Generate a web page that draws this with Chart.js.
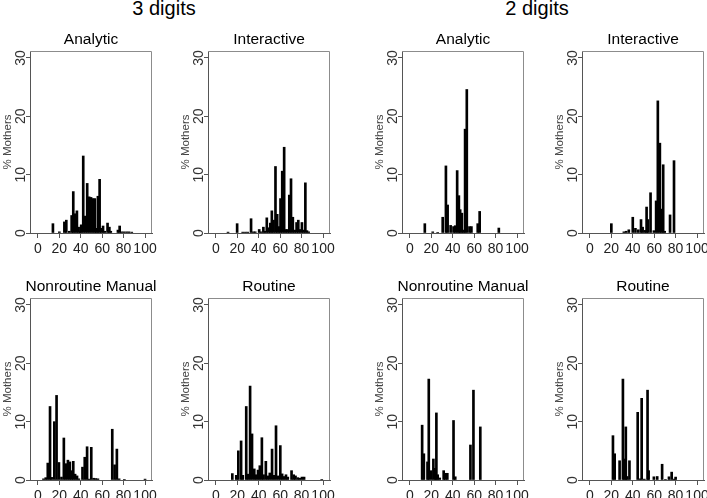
<!DOCTYPE html>
<html>
<head>
<meta charset="utf-8">
<script src="https://cdn.jsdelivr.net/npm/chart.js@4.4.1/dist/chart.umd.min.js"></script>
<style>
  html, body { margin: 0; padding: 0; background: #fff; overflow: hidden; }
  body { width: 707px; height: 498px; position: relative; font-family: "Liberation Sans", Arial, sans-serif; }
  .head { position: absolute; top: -3px; width: 200px; text-align: center; font-size: 20px; line-height: 22px; color: #000; }
  .panel { position: absolute; width: 182px; height: 230px; }
</style>
</head>
<body>
<div class="head" style="left:64px">3 digits</div>
<div class="head" style="left:437px">2 digits</div>
<script>
const FONT = "Liberation Sans";
const ticksX = [0, 20, 40, 60, 80, 100];
const ticksY = [0, 10, 20, 30];

// 3 digits
const analytic3X = [14, 20, 24.7, 26.5, 29.3, 31.5, 33, 34.6, 36.4, 38, 39.5, 40.4, 42.3, 44.2, 46, 47.8, 49.6, 51.4, 53.1, 54.6, 56, 57.6, 59.2, 60.8, 62.4, 65, 66.7, 68, 74.7, 76.3, 78, 80.2, 82.7, 85, 87.6];
const analytic3Y = [1.6, 0.2, 1.9, 2.2, 0.3, 3.0, 7.1, 3.3, 3.8, 1.0, 0.3, 1.4, 13.2, 2.9, 8.5, 6.2, 6.1, 5.9, 5.9, 0.8, 6.3, 9.2, 0.8, 1.2, 0.3, 1.7, 1.0, 0.3, 0.5, 1.2, 0.2, 0.2, 0.2, 0.2, 0.15];

const interactive3X = [11.3, 19.8, 25, 27.5, 29.7, 32.8, 35, 36.7, 40.4, 42.2, 44.3, 45.8, 47.5, 49.2, 50.8, 52.2, 53.8, 55.6, 57.2, 58.8, 60.3, 61.9, 63.7, 65.3, 66.9, 68.5, 70.1, 71.8, 73.5, 75.3, 76.9, 78.6, 80.3, 81.8, 83.5, 85, 86.6];
const interactive3Y = [0.15, 1.6, 0.15, 0.15, 0.15, 2.45, 0.2, 0.2, 0.6, 0.2, 1.0, 0.3, 2.6, 0.9, 1.7, 3.8, 2.2, 11.4, 3.2, 1.1, 5.9, 10.6, 14.7, 0.6, 0.6, 6.5, 9.3, 2.7, 0.5, 1.8, 2.2, 0.6, 1.8, 0.5, 8.6, 0.4, 0.2];

const manual3X = [5.2, 7.3, 9.2, 11.3, 12.8, 15.3, 17.4, 19.6, 22, 24.2, 26, 28, 29.8, 31.4, 33, 34.7, 36.5, 38.2, 41.6, 43.7, 45.9, 47.7, 49.8, 52, 54, 56, 69.4, 71.6, 73.7, 75.8, 80.7, 100];
const manual3Y = [0.2, 0.4, 2.9, 12.6, 0.45, 10.0, 14.5, 3.0, 0.5, 7.2, 2.8, 3.4, 3.1, 1.6, 3.2, 1.0, 0.7, 0.2, 2.2, 3.9, 5.7, 0.15, 5.6, 0.3, 0.25, 0.2, 8.7, 2.6, 5.3, 0.2, 0.1, 0.15];

const routine3X = [15.3, 19, 20.9, 23.5, 25.1, 28.3, 30, 31.9, 33.7, 35.8, 37.4, 39.3, 41, 42.9, 44.5, 46.6, 48.4, 50.3, 52.4, 54.2, 56.1, 58.1, 60.1, 61.8, 63.5, 65.4, 67.1, 70.6, 72.6, 74.3, 76.5, 78.3, 80.3, 82.3, 98.8];
const routine3Y = [1.1, 0.8, 5.0, 6.7, 0.8, 12.6, 1.0, 16.1, 7.9, 1.9, 0.9, 1.7, 2.45, 7.25, 0.9, 3.2, 0.7, 1.2, 5.3, 0.8, 9.3, 0.7, 5.9, 1.05, 0.6, 0.9, 0.5, 1.6, 0.9, 0.7, 0.4, 0.3, 0.5, 0.5, 0.1];

// 2 digits
const analytic2X = [13.9, 21.3, 25.9, 30.6, 33.6, 35.2, 38, 40.7, 42.3, 44.1, 45.7, 46.9, 48.5, 50, 51.5, 53.1, 55.6, 57.4, 63.3, 65.1, 83];
const analytic2Y = [1.6, 0.2, 0.1, 2.7, 11.5, 4.8, 1.3, 1.1, 1.25, 10.7, 6.4, 4.0, 3.4, 0.5, 17.8, 24.6, 1.1, 1.1, 1.6, 3.7, 0.85];

const interactive2X = [20, 31.7, 33.8, 36.3, 40, 42.5, 45.2, 47.7, 49.2, 51.4, 52.9, 54.2, 56.6, 59.7, 61.8, 63.4, 65.3, 66.8, 68.4, 69.8, 74.8, 78.5];
const interactive2Y = [1.6, 0.2, 0.3, 0.55, 2.7, 0.8, 0.55, 2.3, 1.0, 0.45, 4.45, 2.3, 6.9, 0.4, 5.5, 22.65, 15.4, 4.1, 11.7, 0.3, 3.1, 12.4];

const manual2X = [11.4, 13, 16.4, 17.6, 19.8, 21.9, 23.5, 24.7, 25.9, 27.8, 31.5, 33, 34.9, 40.7, 42.3, 56.5, 59.3, 65.7];
const manual2Y = [9.4, 4.5, 3.1, 17.3, 1.6, 3.6, 2.0, 11.5, 0.9, 0.35, 1.6, 1.15, 1.15, 10.2, 0.55, 6.0, 15.4, 9.1];

const routine2X = [21.5, 23.1, 27.7, 30.8, 32.3, 33.5, 34.8, 36.9, 44.6, 46.8, 48.3, 50.8, 53.8, 54.8, 59.7, 62.8, 67.4, 70.5, 73.8, 76.3, 78.5, 80];
const routine2Y = [7.6, 4.5, 3.3, 17.3, 3.6, 9.1, 0.6, 3.3, 11.6, 0.2, 14.0, 0.15, 15.4, 1.6, 0.55, 0.6, 2.7, 0.1, 0.55, 1.35, 0.15, 0.5];

const panels = [
  { title: "Analytic", xs: analytic3X, ys: analytic3Y, left: 0, top: 28 },
  { title: "Interactive", xs: interactive3X, ys: interactive3Y, left: 178, top: 28 },
  { title: "Analytic", xs: analytic2X, ys: analytic2Y, left: 372, top: 28 },
  { title: "Interactive", xs: interactive2X, ys: interactive2Y, left: 552, top: 28 },
  { title: "Nonroutine Manual", xs: manual3X, ys: manual3Y, left: 0, top: 275 },
  { title: "Routine", xs: routine3X, ys: routine3Y, left: 178, top: 275 },
  { title: "Nonroutine Manual", xs: manual2X, ys: manual2Y, left: 372, top: 275 },
  { title: "Routine", xs: routine2X, ys: routine2Y, left: 552, top: 275 },
];

// top and right edges of the plot box
const boxPlugin = {
  id: "box",
  afterDraw(chart) {
    const { ctx, chartArea: a } = chart;
    const t = Math.round(a.top) + 0.5;
    const r = Math.round(a.right) - 0.5;
    ctx.save();
    ctx.strokeStyle = "#8c8c8c";
    ctx.lineWidth = 1;
    ctx.beginPath();
    ctx.moveTo(a.left, t);
    ctx.lineTo(r, t);
    ctx.lineTo(r, a.bottom);
    ctx.stroke();
    ctx.restore();
  },
};

function drawPanel(p) {
  const wrap = document.createElement("div");
  wrap.className = "panel";
  wrap.style.left = p.left + "px";
  wrap.style.top = p.top + "px";
  const canvas = document.createElement("canvas");
  canvas.width = 182;
  canvas.height = 230;
  wrap.appendChild(canvas);
  document.body.appendChild(wrap);

  new Chart(canvas, {
    type: "bar",
    data: {
      datasets: [{
        data: p.xs.map((x, i) => ({ x: x, y: p.ys[i] })),
        backgroundColor: "#000",
        borderWidth: 0,
        barThickness: 2,
        grouped: false,
      }],
    },
    options: {
      responsive: false,
      animation: false,
      layout: { padding: 0 },
      plugins: {
        legend: { display: false },
        tooltip: { enabled: false },
        title: {
          display: true,
          text: p.title,
          color: "#000",
          font: { family: FONT, size: 15.5, weight: "normal", lineHeight: 1.2 },
          padding: { top: 2.4, bottom: 2 },
        },
      },
      scales: {
        x: {
          type: "linear",
          min: -7.4,
          max: 106.5,
          offset: false,
          afterBuildTicks: (s) => { s.ticks = ticksX.map((v) => ({ value: v })); },
          afterFit: (s) => { s.height = 25; },
          grid: { display: true, offset: false, drawOnChartArea: false, drawTicks: true, tickLength: 5, color: "#555" },
          border: { display: true, color: "#555" },
          ticks: { color: "#222", font: { family: FONT, size: 14 }, padding: 3, maxRotation: 0, autoSkip: false },
        },
        y: {
          min: 0,
          max: 31.2,
          afterBuildTicks: (s) => { s.ticks = ticksY.map((v) => ({ value: v })); },
          afterFit: (s) => { s.width = 30; },
          grid: { display: true, drawOnChartArea: false, drawTicks: true, tickLength: 4, color: "#555" },
          border: { display: true, color: "#555" },
          ticks: { color: "#333", font: { family: FONT, size: 14 }, minRotation: 90, maxRotation: 90, crossAlign: "center", padding: -3 },
          title: {
            display: true,
            text: "% Mothers",
            color: "#444",
            font: { family: FONT, size: 11.5 },
            padding: { top: 0.6, bottom: 0 },
          },
        },
        // empty right-hand axis so the panel title centres over the plot box
        yRight: {
          position: "right",
          display: true,
          min: 0,
          max: 31.2,
          afterFit: (s) => { s.width = 30; },
          grid: { display: false },
          border: { display: false },
          ticks: { display: false },
        },
      },
    },
    plugins: [boxPlugin],
  });
}

panels.forEach(drawPanel);
</script>
</body>
</html>
